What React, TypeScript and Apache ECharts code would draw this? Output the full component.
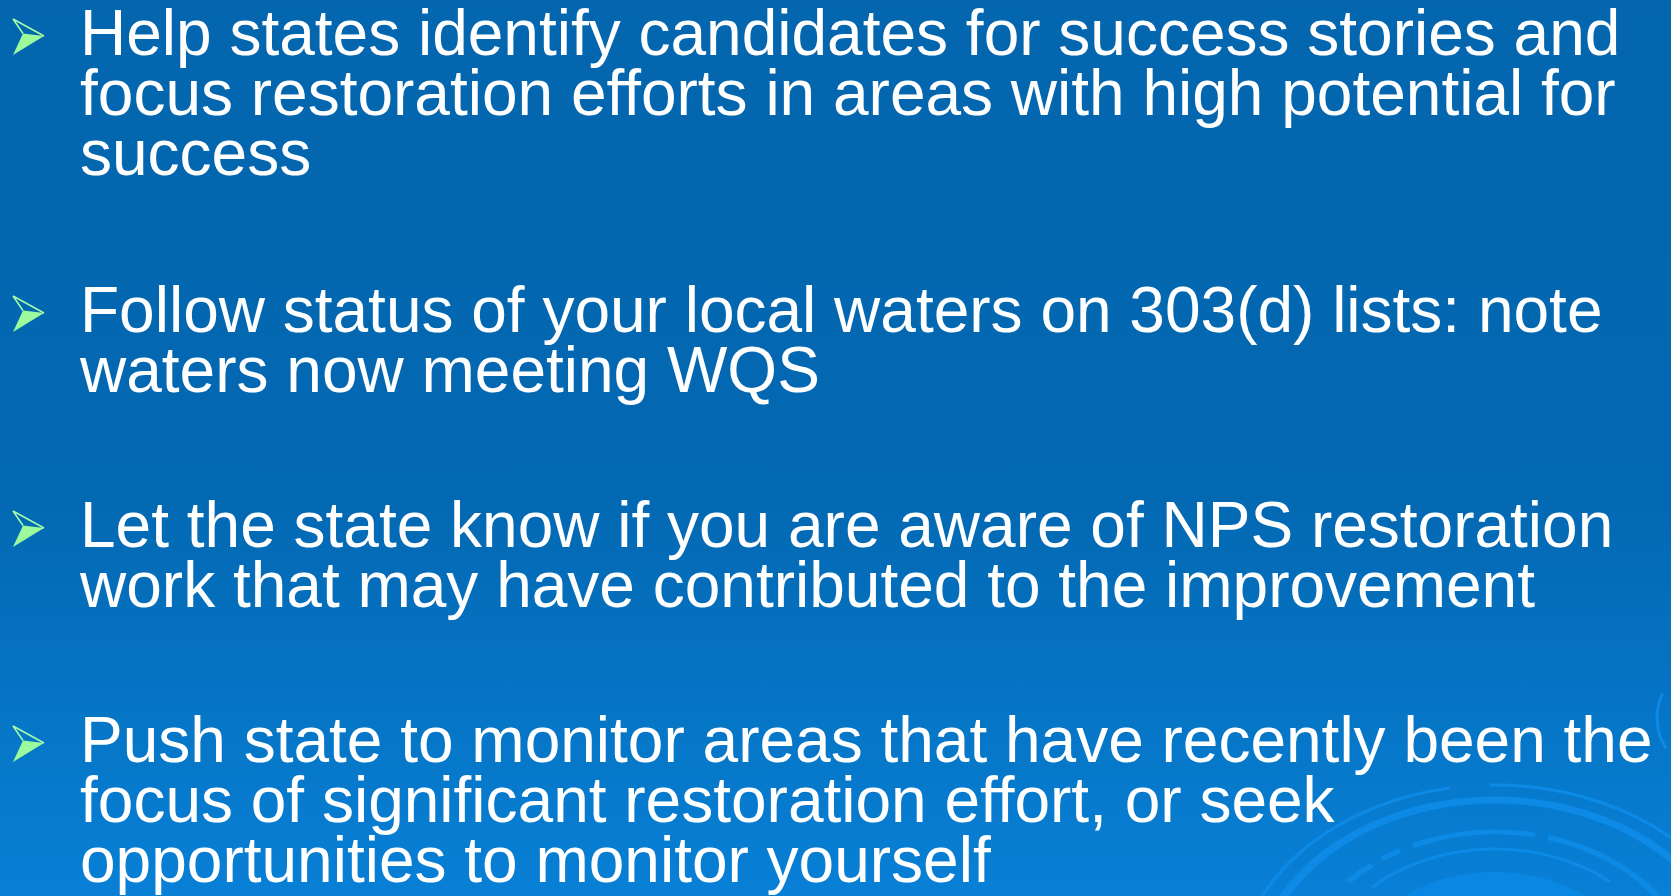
import React, { useEffect, useRef } from "react";
import * as echarts from "echarts";

// ---- Slide content (text lines of each bullet paragraph) ----
const paragraph1: string[] = [
  "Help states identify candidates for success stories and",
  "focus restoration efforts in areas with high potential for",
  "success",
];
const paragraph2: string[] = [
  "Follow status of your local waters on 303(d) lists: note",
  "waters now meeting WQS",
];
const paragraph3: string[] = [
  "Let the state know if you are aware of NPS restoration",
  "work that may have contributed to the improvement",
];
const paragraph4: string[] = [
  "Push state to monitor areas that have recently been the",
  "focus of significant restoration effort, or seek",
  "opportunities to monitor yourself",
];
const paragraphs: string[][] = [paragraph1, paragraph2, paragraph3, paragraph4];

const W = 1671;
const H = 896;

function buildGraphics(): any[] {
  const els: any[] = [];
  // background
  els.push({
    type: "rect",
    shape: { x: 0, y: 0, width: W, height: H },
    style: {
      fill: new echarts.graphic.LinearGradient(0, 0, 0, 1, [
        { offset: 0, color: "#0366ae" },
        { offset: 0.55, color: "#0368b2" },
        { offset: 1, color: "#0880d6" },
      ]),
    },
    silent: true,
  });

  // decorative swirl (bottom right)
  const cx = 1495;
  const cy = 985;
  const sx = 1.3;
  const ang = (r: number, x: number) => {
    let u = (x - cx) / sx;
    if (u > r) u = r;
    if (u < -r) u = -r;
    return Math.atan2(-Math.sqrt(Math.max(0, r * r - u * u)), u);
  };
  const swirl: [number, number, number, number][] = [
    [200, 3, -1e9, 1450],
    [200, 3, 1490, 1e9],
    [185, 7, -1e9, 1e9],
    [153, 5, 1348, 1372],
    [153, 5, 1382, 1400],
    [153, 5, 1413, 1535],
    [153, 5, 1548, 1e9],
    [136, 3, 1372, 1610],
  ];
  const arcChildren: any[] = [
    {
      type: "circle",
      shape: { cx: 0, cy: 0, r: 113 },
      style: { fill: "#0a8ae6", opacity: 0.8 },
    },
  ];
  swirl.forEach(([r, lw, x1, x2]) => {
    const a1 = x1 < -1e8 ? -Math.PI - 0.3 : ang(r, x1);
    const a2 = x2 > 1e8 ? 0.3 : ang(r, x2);
    arcChildren.push({
      type: "arc",
      shape: { cx: 0, cy: 0, r, startAngle: a1, endAngle: a2, clockwise: true },
      style: { stroke: "#0c8ae6", lineWidth: lw, fill: null },
    });
  });
  els.push({ type: "group", x: cx, y: cy, scaleX: sx, silent: true, children: arcChildren });
  els.push({
    type: "arc",
    shape: { cx: 1712, cy: 718, r: 55, startAngle: 2.55, endAngle: 3.6, clockwise: true },
    style: { stroke: "#0c8ae6", lineWidth: 3, fill: null },
    silent: true,
  });

  // bullets + text
  const firstBaselines = [55, 332, 547, 762];
  const lineStep = 60;
  const fontSize = 64;
  const centralOffset = 22;
  paragraphs.forEach((lines, pi) => {
    const b = firstBaselines[pi];
    const bx = 13;
    const by = b - 36;
    // lower filled facet
    els.push({
      type: "polygon",
      shape: { points: [[bx + 10, by + 14.5], [bx + 31, by + 17], [bx, by + 36]] },
      style: { fill: "#9cfa9c" },
      silent: true,
    });
    // upper outline facet
    els.push({
      type: "polyline",
      shape: { points: [[bx + 10, by + 14.5], [bx, by], [bx + 31, by + 17]] },
      style: { stroke: "#a6fca6", lineWidth: 1.5, fill: null },
      silent: true,
    });
    lines.forEach((line, li) => {
      els.push({
        type: "text",
        x: 80,
        y: b + li * lineStep - centralOffset,
        style: {
          text: line,
          fill: "#ffffff",
          font: `${fontSize}px "Liberation Sans", Arial, sans-serif`,
          lineHeight: 56,
          textAlign: "left",
          textVerticalAlign: "middle",
          verticalAlign: "middle",
        },
        silent: true,
      });
    });
  });
  return els;
}

export default function App() {
  const ref = useRef<HTMLDivElement>(null);
  useEffect(() => {
    if (!ref.current) return;
    const chart = echarts.init(ref.current, undefined, { renderer: "svg" });
    chart.setOption({
      animation: false,
      graphic: { elements: buildGraphics() },
    });
    return () => chart.dispose();
  }, []);
  return (
    <div
      ref={ref}
      style={{ position: "fixed", left: 0, top: 0, width: W, height: H }}
    />
  );
}
